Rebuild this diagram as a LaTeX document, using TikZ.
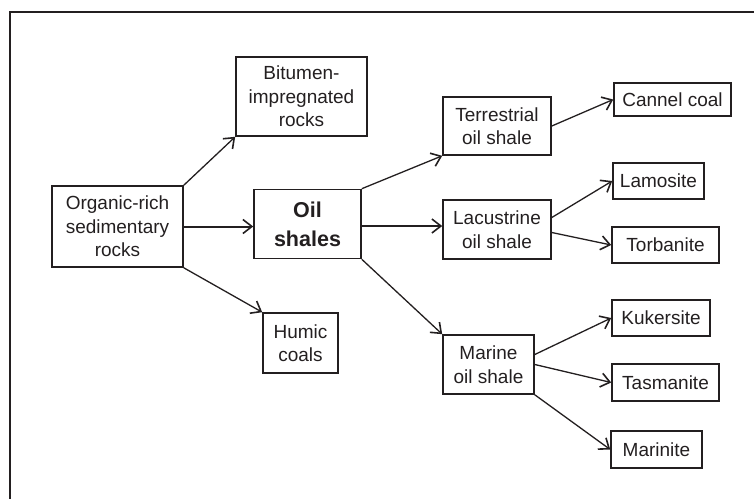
\documentclass[tikz,border=0pt]{standalone}
\usepackage{fontspec}
\setmainfont{Liberation Sans}
\usetikzlibrary{arrows.meta}
\definecolor{ink}{HTML}{231F20}
\begin{document}
\begin{tikzpicture}[x=1pt,y=-1pt,
  box/.style={draw=ink,line width=1.6pt,align=center,inner sep=0pt,
    font=\fontsize{19}{23.5}\selectfont,text=ink},
  conn/.style={draw=ink,line width=1.3pt,-{Straight Barb[length=9pt,width=14pt,line width=1.6pt]}},
  hconn/.style={conn,line width=2pt}]
\useasboundingbox (0,0) rectangle (754,499);
\draw[ink,line width=1.5pt] (754,12) -- (10,12) -- (10,499);
\node[box,minimum width=131pt,minimum height=81pt] (org) at (117.5,226.5) {Organic-rich\\sedimentary\\rocks};
\node[box,minimum width=131pt,minimum height=79pt] (bit) at (301.5,96.5) {Bitumen-\\impregnated\\rocks};
\node[box,minimum width=107pt,minimum height=69pt,font=\fontsize{21.5}{29}\selectfont\bfseries] (oil) at (307.5,224) {Oil\\shales};
\node[box,minimum width=75pt,minimum height=60pt] (hum) at (300.5,343) {Humic\\coals};
\node[box,minimum width=108pt,minimum height=58pt] (ter) at (497,126) {Terrestrial\\oil shale};
\node[box,minimum width=117pt,minimum height=33pt] (can) at (672.5,99.5) {Cannel coal};
\node[box,minimum width=91pt,minimum height=36pt] (lam) at (658.5,181) {Lamosite};
\node[box,minimum width=108pt,minimum height=59pt] (lac) at (497,229.5) {Lacustrine\\oil shale};
\node[box,minimum width=107pt,minimum height=36pt] (tor) at (665.5,245) {Torbanite};
\node[box,minimum width=91pt,minimum height=59pt] (mar) at (488.5,364.5) {Marine\\oil shale};
\node[box,minimum width=98pt,minimum height=36pt] (kuk) at (661,318) {Kukersite};
\node[box,minimum width=107pt,minimum height=37pt] (tas) at (665.5,382.5) {Tasmanite};
\node[box,minimum width=91pt,minimum height=37pt] (mrn) at (656.5,449.5) {Marinite};
\draw[conn] (org.north east) -- (bit.south west);
\draw[hconn] (org.east) -- (org.east -| oil.west);
\draw[conn] (org.south east) -- (hum.north west);
\draw[conn] (oil.north east) -- (ter.south west);
\draw[hconn] ([yshift=-2pt]oil.east) -- ([yshift=-2pt]oil.east -| lac.west);
\draw[conn] (oil.south east) -- (mar.north west);
\draw[conn] (ter.east) -- (can.west);
\draw[conn] ([yshift=12pt]lac.east) -- (lam.west);
\draw[conn] ([yshift=-3pt]lac.east) -- (tor.west);
\draw[conn] ([yshift=10pt]mar.east) -- (kuk.west);
\draw[conn] (mar.east) -- (tas.west);
\draw[conn] (mar.south east) -- (mrn.west);
\end{tikzpicture}
\end{document}
